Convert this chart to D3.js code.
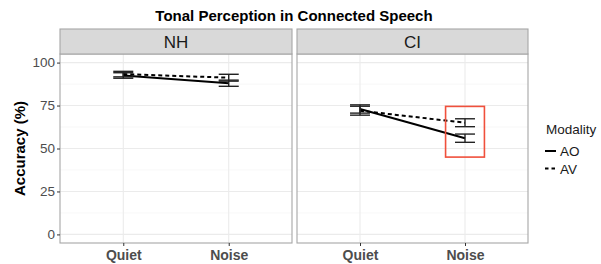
<!DOCTYPE html>
<html>
<head>
<meta charset="utf-8">
<script src="https://cdn.jsdelivr.net/npm/d3@7"></script>
<style>
  body { margin: 0; background: #fff; }
  text { font-family: "Liberation Sans", Arial, sans-serif; }
</style>
</head>
<body>
<svg id="chart" width="601" height="264"></svg>
<script>
// data
const groups = ['NH', 'CI'];
const conditions = ['Quiet', 'Noise'];
const modalities = ['AO', 'AV'];

// mean accuracy (%) per group, in condition order
const aoMean = { NH: [92.5, 88], CI: [73, 56] };
const avMean = { NH: [93.3, 91.2], CI: [72, 65] };
// error bar half-width (%)
const aoErr = { NH: [1.6, 1.8], CI: [2.4, 2.4] };
const avErr = { NH: [1.6, 2.0], CI: [2.6, 2.3] };

const yTicks = [0, 25, 50, 75, 100];
const yMinor = [12.5, 37.5, 62.5, 87.5];

// highlighted region (CI, Noise)
const highlight = { group: 'CI', condition: 'Noise', low: 45, high: 74.5 };

const svg = d3.select('#chart');

const panelTop = 54, panelBottom = 243;
const stripH = 25;
const panels = [
  { name: 'NH', left: 60, right: 292 },
  { name: 'CI', left: 297, right: 528 }
];

const y = d3.scaleLinear().domain([-5, 105]).range([panelBottom, panelTop]);

svg.append('text')
  .attr('x', 294).attr('y', 20.5)
  .attr('text-anchor', 'middle')
  .style('font-size', '15px').style('font-weight', 'bold')
  .attr('fill', '#000')
  .text('Tonal Perception in Connected Speech');

const series = modalities.map(m => ({
  key: m,
  mean: m === 'AO' ? aoMean : avMean,
  err: m === 'AO' ? aoErr : avErr,
  dash: m === 'AO' ? null : '4,3'
}));

panels.forEach(p => {
  const x = d3.scalePoint().domain(conditions).range([p.left, p.right]).padding(0.6);
  const step = x.step();
  const g = svg.append('g');

  g.append('rect')
    .attr('x', p.left).attr('y', panelTop)
    .attr('width', p.right - p.left).attr('height', panelBottom - panelTop)
    .attr('fill', '#fff');

  // gridlines
  g.selectAll('.minor').data(yMinor).enter().append('line')
    .attr('x1', p.left).attr('x2', p.right)
    .attr('y1', d => y(d)).attr('y2', d => y(d))
    .attr('stroke', '#f2f2f2').attr('stroke-width', 0.6);
  g.selectAll('.major').data(yTicks).enter().append('line')
    .attr('x1', p.left).attr('x2', p.right)
    .attr('y1', d => y(d)).attr('y2', d => y(d))
    .attr('stroke', '#ebebeb').attr('stroke-width', 1.1);
  g.selectAll('.vgrid').data(conditions).enter().append('line')
    .attr('x1', d => x(d)).attr('x2', d => x(d))
    .attr('y1', panelTop).attr('y2', panelBottom)
    .attr('stroke', '#ebebeb').attr('stroke-width', 1.1);

  // lines
  series.forEach(s => {
    const vals = s.mean[p.name];
    const line = d3.line().x((d, i) => x(conditions[i])).y(d => y(d));
    g.append('path')
      .attr('d', line(vals))
      .attr('fill', 'none')
      .attr('stroke', '#000')
      .attr('stroke-width', 2)
      .attr('stroke-dasharray', s.dash);
  });

  // error bars
  const hw = step * 0.095;
  series.forEach(s => {
    s.mean[p.name].forEach((m, i) => {
      const cx = x(conditions[i]);
      const e = s.err[p.name][i];
      const eb = g.append('g').attr('stroke', '#222').attr('stroke-width', 1.4);
      eb.append('line').attr('x1', cx).attr('x2', cx).attr('y1', y(m - e)).attr('y2', y(m + e));
      [m - e, m + e].forEach(v => {
        eb.append('line').attr('x1', cx - hw).attr('x2', cx + hw).attr('y1', y(v)).attr('y2', y(v));
      });
    });
  });

  // border
  g.append('rect')
    .attr('x', p.left).attr('y', panelTop)
    .attr('width', p.right - p.left).attr('height', panelBottom - panelTop)
    .attr('fill', 'none').attr('stroke', '#a6a6a6').attr('stroke-width', 1.1);

  // strip
  g.append('rect')
    .attr('x', p.left).attr('y', panelTop - stripH)
    .attr('width', p.right - p.left).attr('height', stripH)
    .attr('fill', '#d9d9d9').attr('stroke', '#a6a6a6').attr('stroke-width', 1.1);
  g.append('text')
    .attr('x', (p.left + p.right) / 2).attr('y', panelTop - 6)
    .attr('text-anchor', 'middle')
    .style('font-size', '17px').attr('fill', '#1a1a1a')
    .text(p.name);

  // x axis
  const xAxis = g.append('g')
    .attr('transform', `translate(0,${panelBottom})`)
    .call(d3.axisBottom(x).tickSize(3).tickPadding(4));
  xAxis.select('.domain').remove();
  xAxis.selectAll('line').attr('stroke', '#333');
  xAxis.selectAll('text')
    .style('font-size', '14px').style('font-weight', 'bold')
    .style('font-family', '"Liberation Sans", Arial, sans-serif')
    .attr('fill', '#4d4d4d');

  if (p.name === 'NH') {
    const yAxis = g.append('g')
      .attr('transform', `translate(${p.left},0)`)
      .call(d3.axisLeft(y).tickValues(yTicks).tickSize(3).tickPadding(2));
    yAxis.select('.domain').remove();
    yAxis.selectAll('line').attr('stroke', '#333');
    yAxis.selectAll('text')
      .style('font-size', '13.5px')
      .style('font-family', '"Liberation Sans", Arial, sans-serif')
      .attr('fill', '#4d4d4d');
  }

  if (p.name === highlight.group) {
    const hx = x(highlight.condition);
    const half = step * 0.185;
    g.append('rect')
      .attr('x', hx - half).attr('y', y(highlight.high))
      .attr('width', half * 2).attr('height', y(highlight.low) - y(highlight.high))
      .attr('fill', 'none').attr('stroke', '#f0503c').attr('stroke-width', 1.6);
  }
});

// y title
svg.append('text')
  .attr('transform', `translate(25,${(panelTop + panelBottom) / 2}) rotate(-90)`)
  .attr('text-anchor', 'middle')
  .style('font-size', '15px').style('font-weight', 'bold')
  .text('Accuracy (%)');

// legend
const lg = svg.append('g').attr('transform', 'translate(545,0)');
lg.append('text').attr('x', 1).attr('y', 134)
  .style('font-size', '13.5px').attr('fill', '#1a1a1a').text('Modality');
series.forEach((s, i) => {
  const ly = 151 + i * 17.5;
  lg.append('line')
    .attr('x1', 0).attr('x2', 11).attr('y1', ly).attr('y2', ly)
    .attr('stroke', '#000').attr('stroke-width', 2)
    .attr('stroke-dasharray', s.dash ? '3.5,3' : null);
  lg.append('text').attr('x', 15).attr('y', ly + 5)
    .style('font-size', '13.5px').attr('fill', '#1a1a1a').text(s.key);
});
</script>
</body>
</html>
